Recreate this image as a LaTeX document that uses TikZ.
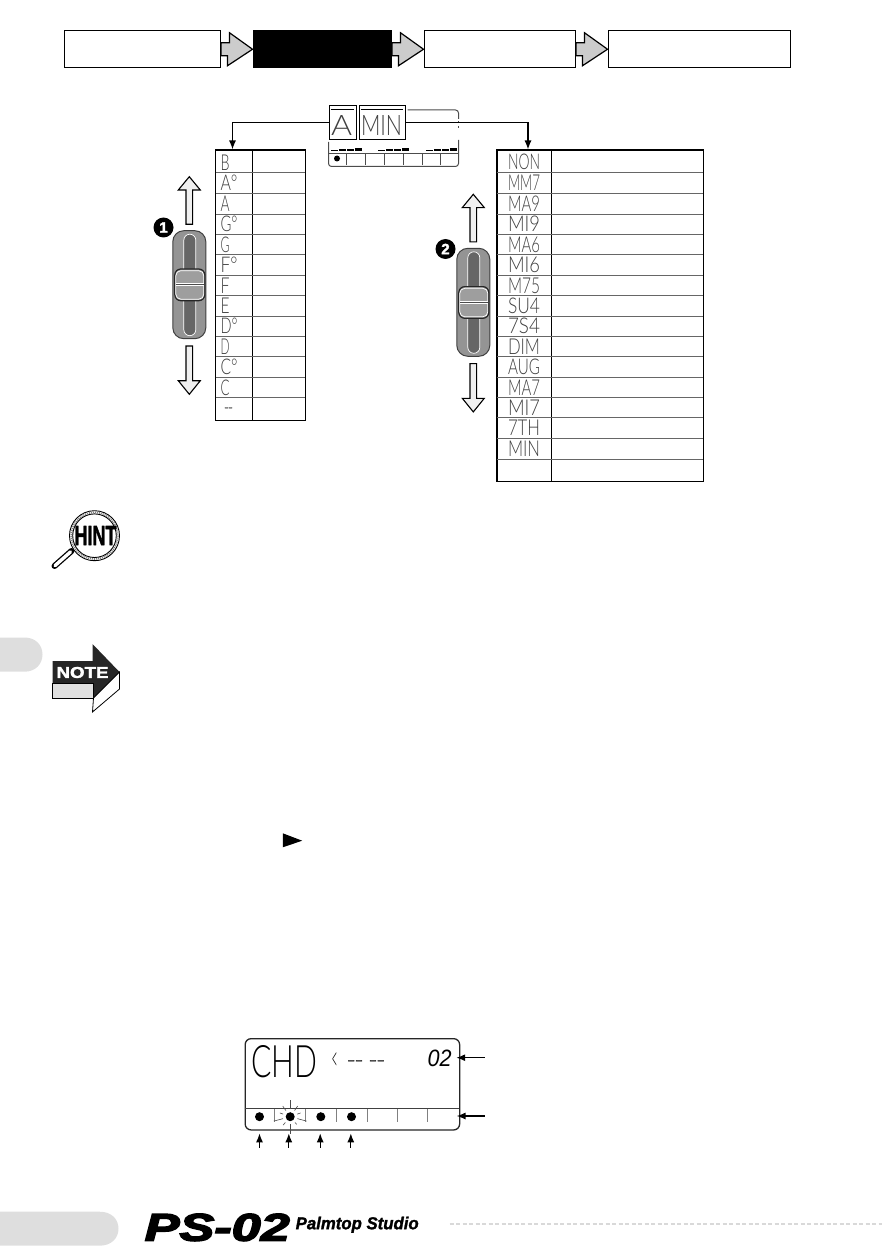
\documentclass[tikz,border=0pt]{standalone}
\usepackage{fontspec}
\usepackage{graphicx}
\usetikzlibrary{arrows.meta,calc}
\setmainfont{Liberation Sans}
\newfontfamily\lcdfont{Lato Light}
\newfontfamily\heavyfont[FakeBold=2]{Liberation Sans Bold}
\newfontfamily\logofont[FakeBold=3.5]{Liberation Sans Bold Italic}
\newfontfamily\palmfont[FakeBold=1.5]{Liberation Sans Bold Italic}
\newcommand{\fitbox}[3]{\resizebox{#1pt}{#2pt}{#3}}
\newcommand{\seg}[3]{\fitbox{#1}{#2}{\lcdfont #3}}
\definecolor{tabgray}{gray}{0.87}
\definecolor{arrowgray}{gray}{0.8}
\definecolor{lcdgray}{gray}{0.25}
\tikzset{
  x=1pt,y=-1pt,
  headbox/.style={draw=black,line width=1.5pt,fill=white},
  blockarrow/.style={draw=black,line width=1.2pt,fill=arrowgray,line join=miter},
  whitearrow/.style={draw=black,line width=1.1pt,fill=black!6,line join=miter},
  tabline/.style={draw=black,line width=1.3pt,fill=white},
  rowline/.style={draw=black!60,line width=0.9pt},
  lcdtext/.style={inner sep=0pt,outer sep=0pt,text=lcdgray},
  wire/.style={draw=black,line width=1.3pt,-{Latex[length=9pt,width=7pt]}},
  thinlcd/.style={draw=black!70,line width=0.6pt},
  sliderpic/.pic={
    \draw[black!75,line width=1pt,fill=black!42,rounded corners=11pt] (0,0) rectangle (33,108);
    \draw[white,line width=0.7pt,fill=black!60,rounded corners=6pt] (11,3.5) rectangle (23,105);
    \draw[black!85,line width=1.2pt,fill=black!38,rounded corners=6pt] (2,38.3) rectangle (32,70);
    \draw[white,line width=0.7pt,rounded corners=5pt] (3,40) rectangle (31,68.5);
    \draw[white,line width=0.8pt] (3,52.6) -- (31,52.6) (3,55) -- (31,55);
    \draw[black!70,line width=0.5pt] (3,53.8) -- (31,53.8);
    \draw[whitearrow] (16.5,-54) -- (27.5,-40.7) -- (19.8,-40.7) -- (19.8,-6.4) -- (13.2,-6.4) -- (13.2,-40.7) -- (5.5,-40.7) -- cycle;
    \draw[whitearrow] (16.5,163.6) -- (27.5,150) -- (19.8,150) -- (19.8,115.3) -- (13.2,115.3) -- (13.2,150) -- (5.5,150) -- cycle;
  }
}
\begin{document}
\begin{tikzpicture}
\useasboundingbox (0.5,0) rectangle (882.5,1257);
% header flow
\node[headbox,anchor=north west,minimum width=156pt,minimum height=37pt,inner sep=0pt] (h1) at (64,30) {};
\node[headbox,fill=black,anchor=north west,minimum width=138pt,minimum height=37pt,inner sep=0pt] (h2) at (253,30) {};
\node[headbox,anchor=north west,minimum width=151pt,minimum height=37pt,inner sep=0pt] (h3) at (424,30) {};
\node[headbox,anchor=north west,minimum width=182pt,minimum height=37pt,inner sep=0pt] (h4) at (608,30) {};
\foreach \a/\b in {h1/h2,h2/h3,h3/h4}{
  \draw[blockarrow] ([yshift=6.5pt]\a.east) -- ++(8.5,0) -- ++(0,-10) -- (\b.west) -- ++(-25,16.5) -- ++(0,-10) -- ([yshift=-6.5pt]\a.east) -- cycle;
}
% top LCD
\draw[thinlcd,line width=1pt,rounded corners=3pt] (408,110) -- (459,110) -- (459,119);
\draw[thinlcd,line width=1pt] (459,121) -- (459,123) (459,126) -- (459,128);
\draw[thinlcd,line width=1pt,rounded corners=3pt] (459,140) -- (459,166.5) -- (329,166.5) -- (329,142);
\draw[thinlcd] (329,153.3) -- (459,153.3);
\foreach \tx in {347,366,385,403.5,422.5,441}{\draw[thinlcd] (\tx,153.3) -- (\tx,165.5);}
\fill[black] (337.5,158.5) circle (3);
\foreach \bx in {331,378,426}{
  \fill[black] (\bx,149.6) rectangle (\bx+7,151);
  \fill[black] (\bx+8,149.2) rectangle (\bx+15,151);
  \fill[black] (\bx+16,148.8) rectangle (\bx+23,151);
  \fill[black] (\bx+24,148.3) rectangle (\bx+31,151);
}
\node[draw=black,line width=1.3pt,fill=white,anchor=north west,minimum width=27pt,minimum height=34pt,inner sep=0pt] (abox) at (329,105) {};
\node[draw=black,line width=1.3pt,fill=white,anchor=north west,minimum width=46.5pt,minimum height=34pt,inner sep=0pt] (minbox) at (359,105) {};
\draw[black,line width=0.8pt] (331,109.4) -- (354,109.4) (361,109.4) -- (403.5,109.4);
\node[lcdtext] (atxt) at (342,126) {\seg{21}{20}{A}};
\node[lcdtext] (mintxt) at (382,126) {\seg{41}{20}{MIN}};
% left table
\node[tabline,anchor=north west,minimum width=90pt,minimum height=270.5pt,inner sep=0pt] (ltab) at (215.5,149.5) {};
\coordinate (ltabtop) at (233,149.5);
\draw[wire] (abox.west |- 0,122.5) -| (ltabtop);
\draw[line width=1.2pt] (253,149.5) -- (253,420);
\foreach \ly in {172.3,193.3,214,234.3,254.3,275,295.3,316,336.3,356.7,377.3,397.3}{\draw[rowline] (216,\ly) -- (305,\ly);}
\foreach \ty/\tw/\ttxt/\tname in {162.5/9/B/l1,182.5/17/A°/l2,203.5/9/A/l3,224/17/G°/l4,244.5/9/G/l5,265/17/F°/l6,285.5/9/F/l7,306/9/E/l8,326/17/D°/l9,347/9/D/l10,367/17/C°/l11,387.5/9/C/l12}{
  \node[lcdtext] (\tname) at (225+\tw/2-4.5+0.5,\ty) {\seg{\tw}{15.5}{\ttxt}};
}
\node[lcdtext] (l13) at (229,408.5) {\fitbox{8}{2}{\heavyfont --}};
% right table
\node[tabline,anchor=north west,minimum width=206.5pt,minimum height=331.5pt,inner sep=0pt] (rtab) at (496.7,149.5) {};
\coordinate (rtabtop) at (528.5,149.5);
\draw[wire] (minbox.east |- 0,122.5) -| (rtabtop);
\draw[line width=1.2pt] (552.3,149.5) -- (552.3,481);
\foreach \ry in {172.3,193.3,214,234.3,254.3,275,295.3,316,336.3,356.7,377.3,397.3,417.7,438.3,459}{\draw[rowline] (497,\ry) -- (703,\ry);}
\foreach \ty/\ttxt/\tname in {162/NON/r1,182.5/MM7/r2,203.5/MA9/r3,224/MI9/r4,244.5/MA6/r5,265/MI6/r6,285.5/M75/r7,306/SU4/r8,326/7S4/r9,347/DIM/r10,367/AUG/r11,387.5/MA7/r12,407.5/MI7/r13,428/7TH/r14,448.5/MIN/r15}{
  \node[lcdtext] (\tname) at (524.5,\ty) {\seg{32}{15.5}{\ttxt}};
}
% sliders
\pic at (173.3,230.7) {sliderpic};
\pic at (457.3,248.3) {sliderpic};
\node[circle,fill=black,text=white,font=\heavyfont\fontsize{15}{15}\selectfont,minimum size=20pt,inner sep=0pt] (m1) at (164,227.5) {1};
\node[circle,fill=black,text=white,font=\heavyfont\fontsize{15}{15}\selectfont,minimum size=20pt,inner sep=0pt] (m2) at (446,249) {2};
% side tabs
\fill[tabgray] (0,637.5) -- (25,637.5) .. controls (36,637.5) and (43,645) .. (43,654.5) .. controls (43,664) and (36,671.7) .. (25,671.7) -- (0,671.7) -- cycle;
\fill[tabgray] (0,1211.7) -- (100,1211.7) .. controls (112,1211.7) and (119,1219) .. (119,1228.7) .. controls (119,1238) and (112,1245.7) .. (100,1245.7) -- (0,1245.7) -- cycle;
% hint
\draw[black,line width=6pt,line cap=round] (72,551) -- (55,566);
\draw[white,line width=3.4pt,line cap=round] (71,551.9) -- (55.5,565.6);
\draw[black,line width=0.9pt,fill=white] (95,535.7) circle (25);
\draw[black!50,line width=1.6pt,dash pattern=on 1pt off 1pt] (95,535.7) circle (23.3);
\draw[black,line width=0.9pt] (95,535.7) circle (21.8);
\node[inner sep=0pt] (hint) at (96,535.5) {\fitbox{42}{19}{\heavyfont HINT}};
% note
\fill[black!85] (53,661) -- (93,661) -- (93,644) -- (120,672) -- (94,698) -- (94,683) -- (53,683) -- cycle;
\draw[black,line width=0.8pt,fill=black!12] (53,683) rectangle (94,698);
\draw[black,line width=0.8pt,fill=white,line join=miter] (120,672) -- (120,689) -- (93,712) -- (94,698) -- cycle;
\node[inner sep=0pt,text=white] (note) at (83,672.5) {\fitbox{52}{11}{\heavyfont NOTE}};
% small triangle
\fill[black] (283.3,833.3) -- (302.7,840.7) -- (283.3,847.3) -- cycle;
% bottom LCD
\node[draw=black!85,line width=1.3pt,rounded corners=6pt,anchor=north west,minimum width=214.5pt,minimum height=91.3pt,inner sep=0pt] (lcd) at (245,1038) {};
\draw[black!75,line width=0.8pt] (245,1108.7) -- (459.5,1108.7);
\foreach \tx in {275,306,336.7,367.7,397.7,428.3}{\draw[black!50,line width=0.7pt] (\tx,1108.7) -- (\tx,1122);}
\node[lcdtext,text=black] (chd) at (285,1062) {\fitbox{66}{32}{\lcdfont CHD}};
\node[lcdtext,text=black] (lt) at (335,1061.5) {\fitbox{6}{18}{\lcdfont <}};
\node[lcdtext,text=black] (dash) at (366.5,1061.5) {\fitbox{37}{2.2}{\heavyfont -- --}};
\node[lcdtext,text=black] (two) at (440,1058.5) {\fitbox{24}{16.5}{\itshape 02}};
\coordinate (dA) at (260,1116.7);
\coordinate (dB) at (290.7,1116.7);
\coordinate (dC) at (321.3,1116.7);
\coordinate (dD) at (352,1116.7);
\foreach \d in {dA,dB,dC,dD}{\fill[black] (\d) circle (4.5);}
\foreach \ang/\len in {90/17,130/11,165/17,200/11,235/13,270/17,305/13,340/11,15/17,50/10}{
  \draw[black!70,line width=0.6pt] ($(dB)+(\ang:7.5)$) -- ($(dB)+(\ang:\len)$);
}
\coordinate (a1) at (260,1147.5); \coordinate (a1t) at (260,1133.3);
\coordinate (a2) at (289.3,1147.5); \coordinate (a2t) at (289.3,1133.3);
\coordinate (a3) at (320.7,1147.5); \coordinate (a3t) at (320.7,1133.3);
\coordinate (a4) at (351.3,1147.5); \coordinate (a4t) at (351.3,1133.3);
\foreach \i in {1,2,3,4}{\draw[wire] (a\i) -- (a\i t);}
\coordinate (b1) at (485,1057.7); \coordinate (b1t) at (456.7,1057.7);
\coordinate (b2) at (485,1116); \coordinate (b2t) at (457,1116);
\draw[wire] (b1) -- (b1t);
\draw[wire] (b2) -- (b2t);
% footer logo
\node[inner sep=0pt,anchor=north west] (ps) at (145,1213.5) {\fitbox{145}{27}{\logofont PS-02}};
\node[inner sep=0pt,anchor=north west] (palm) at (296,1216.5) {\fitbox{123}{12.5}{\palmfont Palmtop Studio}};
\coordinate (da) at (450,1224); \coordinate (db) at (883,1224);
\draw[black!15,line width=2.6pt,dash pattern=on 4pt off 2.5pt] (da) -- (db);
\end{tikzpicture}
\end{document}
